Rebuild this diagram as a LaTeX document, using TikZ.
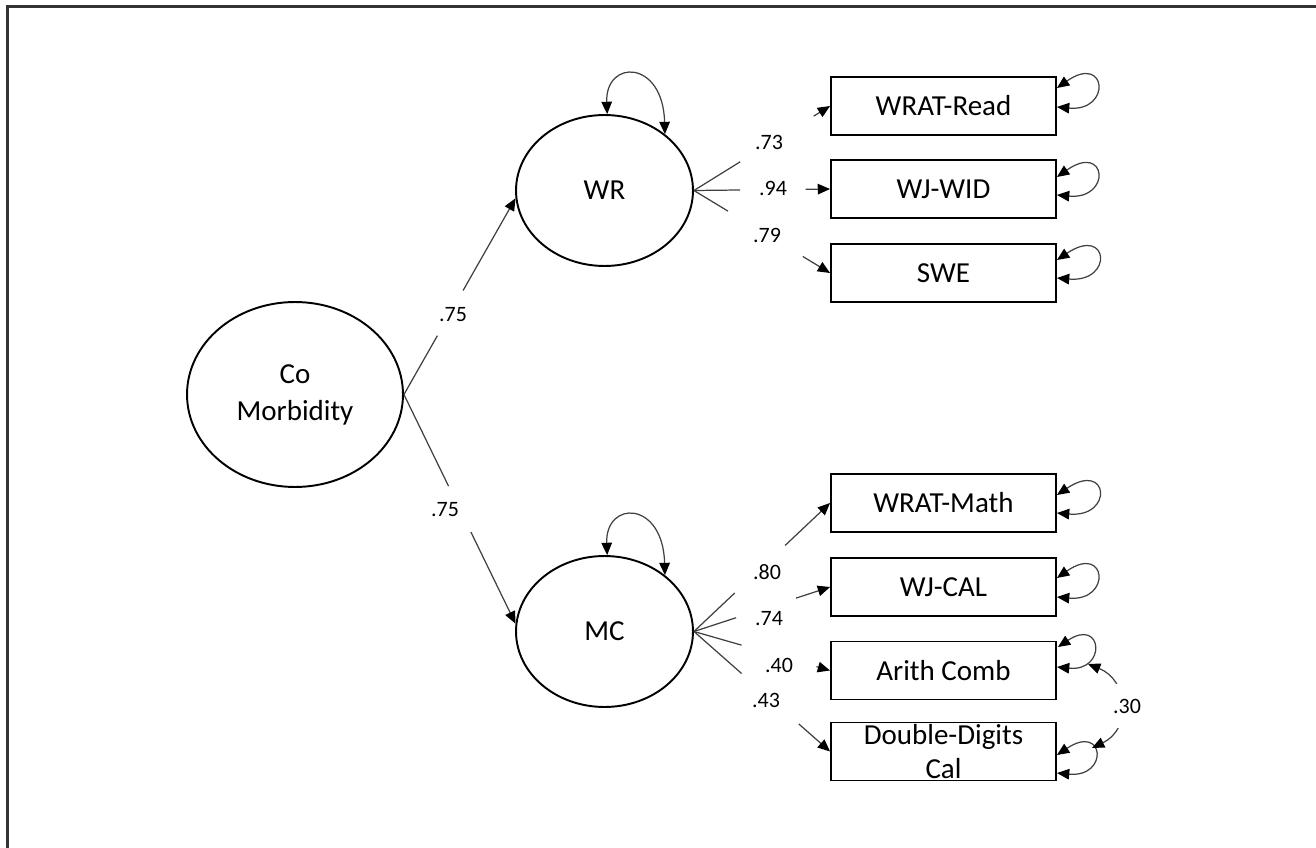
\documentclass[tikz,border=0pt]{standalone}
\usepackage{fontspec}
\setmainfont{Carlito}
\usetikzlibrary{shapes.geometric,arrows.meta,calc}
\begin{document}
\begin{tikzpicture}[x=0.02cm,y=-0.02cm,
  latent/.style={ellipse,draw=black,line width=1.1pt,inner sep=0pt,minimum width=3.54cm,minimum height=3.02cm,font=\fontsize{16.5}{21}\selectfont},
  obs/.style={rectangle,draw=black,line width=1.1pt,minimum width=4.5cm,minimum height=1.16cm,inner sep=0pt,font=\fontsize{16.5}{20}\selectfont},
  conn/.style={draw=black!75,line width=0.7pt},
  tip/.style={-{Triangle[length=7pt,width=6pt,color=black]}},
  dtip/.style={{Triangle[length=7pt,width=6pt,color=black]}-{Triangle[length=7pt,width=6pt,color=black]}},
  coef/.style={font=\fontsize{12.5}{14}\selectfont,inner sep=1pt}
]
\useasboundingbox (0,0) rectangle (1316,848);
% frame
\draw[line width=1.2pt,black!80] (7.5,848) -- (7.5,6.5) -- (1316,6.5);

% latent variables
\node[latent,minimum width=4.32cm,minimum height=3.7cm,align=center] (CM) at (295,394.5) {Co\\Morbidity};
\node[latent] (WR) at (604.5,190.5) {WR};
\node[latent] (MC) at (604.5,631.5) {MC};

% observed variables
\node[obs] (r1) at (943.5,106) {WRAT-Read};
\node[obs] (r2) at (943.5,189) {WJ-WID};
\node[obs] (r3) at (943.5,273) {SWE};
\node[obs] (m1) at (943.5,503) {WRAT-Math};
\node[obs] (m2) at (943.5,587) {WJ-CAL};
\node[obs] (m3) at (943.5,670.5) {Arith Comb};
\node[obs] (m4) at (943.5,751.5) {};
\node[font=\fontsize{16.5}{19.8}\selectfont,align=center,inner sep=0pt] (m4t) at (m4.center) {Double-Digits\\Cal};

% structural paths
\draw[conn] (CM.east) -- ($(CM.east)!0.30!(WR.185)$);
\draw[conn,tip] ($(CM.east)!0.53!(WR.185)$) -- (WR.185);
\node[coef] (l1) at (453,315) {.75};
\draw[conn] (CM.east) -- ($(CM.east)!0.40!(MC.175)$);
\draw[conn,tip] ($(CM.east)!0.60!(MC.175)$) -- (MC.175);
\node[coef] (l2) at (445,510) {.75};

% WR loadings
\draw[conn] (WR.east) -- ($(WR.east)!0.34!(r1.west)$);
\draw[conn,tip] ($(WR.east)!0.88!(r1.west)$) -- (r1.west);
\node[coef] (a1) at (769,142) {.73};
\draw[conn] (WR.east) -- ($(WR.east)!0.34!(r2.west)$);
\draw[conn,tip] ($(WR.east)!0.82!(r2.west)$) -- (r2.west);
\node[coef] (a2) at (773,188) {.94};
\draw[conn] (WR.east) -- ($(WR.east)!0.25!(r3.west)$);
\draw[conn,tip] ($(WR.east)!0.80!(r3.west)$) -- (r3.west);
\node[coef] (a3) at (767,235) {.79};

% MC loadings
\draw[conn] (MC.east) -- ($(MC.east)!0.30!(m1.west)$);
\draw[conn,tip] ($(MC.east)!0.67!(m1.west)$) -- (m1.west);
\node[coef] (b1) at (767,572) {.80};
\draw[conn] (MC.east) -- ($(MC.east)!0.31!(m2.west)$);
\draw[conn,tip] ($(MC.east)!0.75!(m2.west)$) -- (m2.west);
\node[coef] (b2) at (769,619) {.74};
\draw[conn] (MC.east) -- ($(MC.east)!0.35!(m3.west)$);
\draw[conn,tip] ($(MC.east)!0.90!(m3.west)$) -- (m3.west);
\node[coef] (b3) at (779,665) {.40};
\draw[conn] (MC.east) -- ($(MC.east)!0.35!(m4.west)$);
\draw[conn,tip] ($(MC.east)!0.77!(m4.west)$) -- (m4.west);
\node[coef] (b4) at (766,700) {.43};

% latent variances
\draw[conn,dtip] (WR.88) .. controls +(-2,-55) and +(-2,-75) .. (WR.43);
\draw[conn,dtip] (MC.88) .. controls +(-2,-55) and +(-2,-75) .. (MC.43);

% residual variances
\draw[conn,dtip] ($(r1.east)+(0,-18)$) .. controls +(50,-35) and +(55,5) .. ($(r1.east)+(0,1)$);
\draw[conn,dtip] ($(r2.east)+(0,-12)$) .. controls +(50,-35) and +(55,5) .. ($(r2.east)+(0,6)$);
\draw[conn,dtip] ($(r3.east)+(0,-13)$) .. controls +(52,-35) and +(57,5) .. ($(r3.east)+(0,5)$);
\draw[conn,dtip] ($(m1.east)+(0,-8)$) .. controls +(52,-35) and +(57,5) .. ($(m1.east)+(0,10)$);
\draw[conn,dtip] ($(m2.east)+(0,-9)$) .. controls +(50,-35) and +(55,5) .. ($(m2.east)+(0,10)$);
\draw[conn,dtip] ($(m3.east)+(1,-23.5)$) .. controls +(45,-30) and +(50,5) .. ($(m3.east)+(0,-3.5)$);
\draw[conn,dtip] ($(m4.east)+(0,3.5)$) .. controls +(48,-32) and +(52,5) .. ($(m4.east)+(0,21.5)$);

% residual covariance
\coordinate (ca) at (1088,664);
\coordinate (cd) at (1092,748);
\draw[conn,dtip] (ca) .. controls (1128,680) and (1133,728) .. (cd);
\node[coef,fill=white,minimum width=0.7cm,minimum height=0.9cm] (c30) at (1127,706) {.30};
\end{tikzpicture}
\end{document}
